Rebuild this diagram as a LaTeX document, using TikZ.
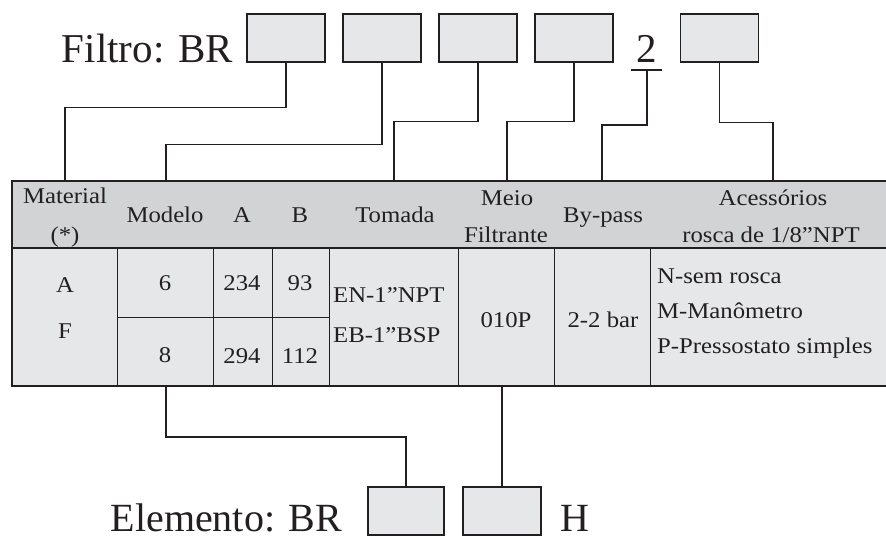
\documentclass[tikz,border=0pt]{standalone}
\usepackage{fontspec}
\setmainfont{Liberation Serif}
\usepackage{tikz}
\usetikzlibrary{positioning,calc}
\definecolor{ink}{RGB}{35,31,32}
\definecolor{headgray}{RGB}{209,211,212}
\definecolor{cellgray}{RGB}{230,231,232}
\newfontfamily\cellfamily[FakeStretch=1.1]{Liberation Serif}
\newcommand\cellfont{\cellfamily\fontsize{22.5}{26}\selectfont}
\newcommand\bigfont{\fontsize{41}{46}\selectfont}
\newcommand\elemfont{\fontsize{40}{45}\selectfont}

\begin{document}
\begin{tikzpicture}[
  x=1pt, y=-1pt,
  slot/.style={draw=ink, line width=1.3pt, fill=cellgray, minimum width=78pt, minimum height=48pt, inner sep=0pt},
  link/.style={draw=ink, line width=1.2pt},
  rule/.style={draw=ink, line width=0.8pt},
  frame/.style={draw=ink, line width=1.6pt},
  cell/.style={anchor=base, inner sep=0pt, font=\cellfont, text=ink},
  big/.style={anchor=base, inner sep=0pt, font=\bigfont, text=ink},
]
  \useasboundingbox (0,0) rectangle (886,538);

  % code line on top
  \node[big, anchor=base east] (filtro) at (233,62) {Filtro: BR};
  \node[slot] (s1) at (286,38) {};
  \node[slot] (s2) at (382,38) {};
  \node[slot] (s3) at (478,38) {};
  \node[slot] (s4) at (574,38) {};
  \node[big] (two) at (647,62) {2};
  \coordinate (ul) at (647,70);
  \draw[link] ([xshift=-16pt]ul) -- ([xshift=15pt]ul);
  \node[slot] (s5) at (719.5,38) {};

  % table
  \fill[headgray] (12,181) rectangle (886,248);
  \fill[cellgray] (12,248) rectangle (886,386);
  \foreach \cx in {117,213,272,329,458,554,650}
    \draw[rule] (\cx,248) -- (\cx,386);
  \draw[rule] (117,317) -- (329,317);
  \draw[frame] (886,181) -- (12,181) -- (12,386) -- (886,386);
  \draw[frame] (12,248) -- (886,248);

  % table top / bottom anchors
  \coordinate (top-mat) at (65,181);
  \coordinate (top-mod) at (166,181);
  \coordinate (top-tom) at (394,181);
  \coordinate (top-mei) at (507,181);
  \coordinate (top-byp) at (602,181);
  \coordinate (top-ace) at (773,181);
  \coordinate (bot-mod) at (166,386);
  \coordinate (bot-mei) at (502,386);

  % header
  \node[cell] (h-mat) at (65,203) {Material};
  \node[cell] (h-ast) at (65,242) {(*)};
  \node[cell] (h-mod) at (165,222) {Modelo};
  \node[cell] (h-a) at (242,222) {A};
  \node[cell] (h-b) at (300,222) {B};
  \node[cell] (h-tom) at (395,222) {Tomada};
  \node[cell] (h-mei) at (507,205) {Meio};
  \node[cell] (h-fil) at (506,242) {Filtrante};
  \node[cell] (h-byp) at (603,222) {By-pass};
  \node[cell] (h-ace) at (773,205) {Acessórios};
  \node[cell] (h-ros) at (771,242) {rosca de 1/8”NPT};

  % body
  \node[cell] (mat-a) at (65,292) {A};
  \node[cell] (mat-f) at (65,338) {F};
  \node[cell] (mod-6) at (165,290) {6};
  \node[cell] (mod-8) at (165,362) {8};
  \node[cell] (a-6) at (242,290) {234};
  \node[cell] (a-8) at (242,363) {294};
  \node[cell] (b-6) at (300,290) {93};
  \node[cell] (b-8) at (300,363) {112};
  \node[cell, anchor=base west] (tom-en) at (333,302) {EN-1”NPT};
  \node[cell, anchor=base west] (tom-eb) at (333,342) {EB-1”BSP};
  \node[cell] (mei-v) at (506,327) {010P};
  \node[cell] (byp-v) at (603,327) {2-2 bar};
  \node[cell, anchor=base west] (ace-n) at (657,283) {N-sem rosca};
  \node[cell, anchor=base west] (ace-m) at (657,318) {M-Manômetro};
  \node[cell, anchor=base west] (ace-p) at (657,353) {P-Pressostato simples};

  % code line at the bottom
  \node[big, font=\elemfont, anchor=base east] (elem) at (342,531) {Elemento: BR};
  \node[slot, minimum width=76pt] (e1) at (406,511) {};
  \node[slot] (e2) at (502,511) {};
  \node[big, font=\elemfont, anchor=base west] (hh) at (560,531) {H};

  % connectors
  \draw[link] (s1.south) -- ++(0,45) -| (top-mat);
  \draw[link] (s2.south) -- ++(0,82) -| (top-mod);
  \draw[link] (s3.south) -- ++(0,59) -| (top-tom);
  \draw[link] (s4.south) -- ++(0,59) -| (top-mei);
  \draw[link] (ul) -- ++(0,55) -| (top-byp);
  \draw[link] (s5.south) -- ++(0,60) -| (top-ace);
  \draw[link] (bot-mod) -- ++(0,51) -| (e1.north);
  \draw[link] (bot-mei) -- (e2.north);
\end{tikzpicture}
\end{document}
